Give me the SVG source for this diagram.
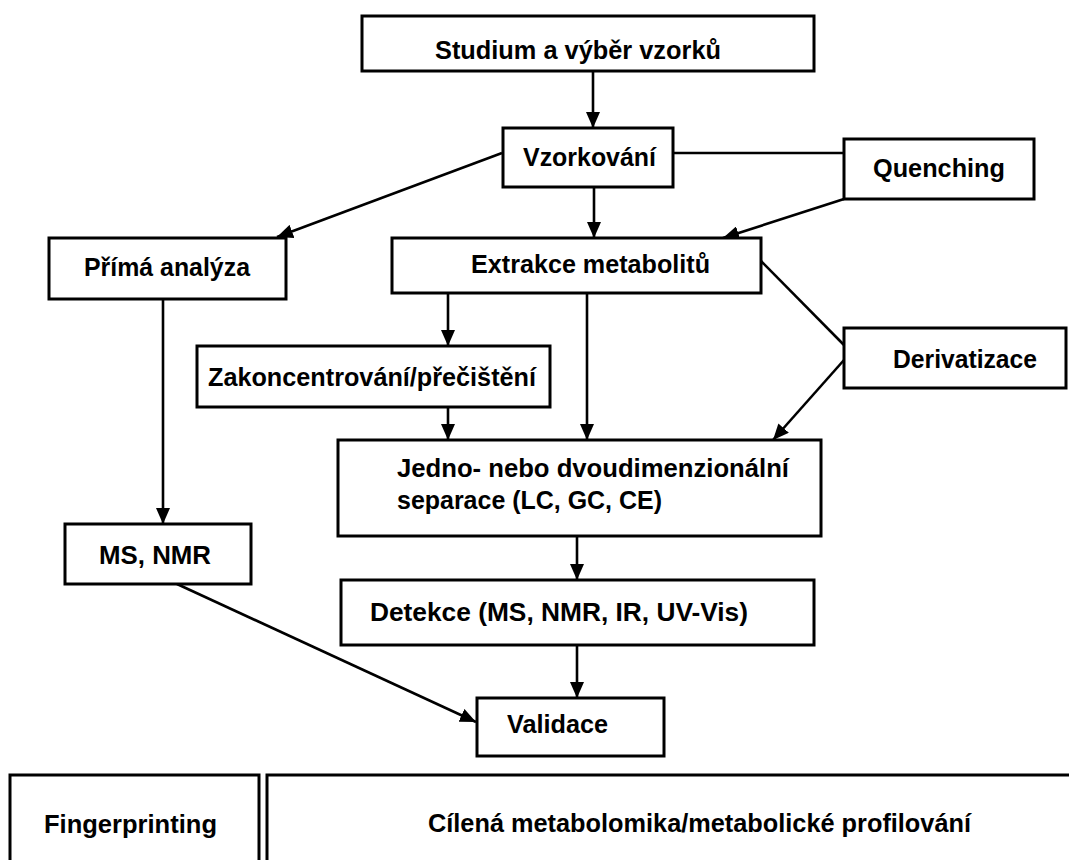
<svg xmlns="http://www.w3.org/2000/svg" width="1069" height="860" viewBox="0 0 1069 860">
<defs>
<style>
.box{fill:#fff;stroke:#000;stroke-width:3}
.t{font-family:"Liberation Sans",Arial,sans-serif;font-weight:bold;font-size:26px;fill:#000}
.c{stroke:#000;stroke-width:2.6;fill:none}
</style>
<marker id="arr" viewBox="0 0 16 14" refX="16" refY="7" markerWidth="16" markerHeight="14" markerUnits="userSpaceOnUse" orient="auto">
<path d="M0,0 L16,7 L0,14 z" fill="#000"/>
</marker>
</defs>
<rect width="1069" height="860" fill="#fff"/>
<g id="connectors">
<path class="c" d="M593 71 L593 128" marker-end="url(#arr)"/>
<path class="c" d="M502 153 L277 237" marker-end="url(#arr)"/>
<path class="c" d="M673 153 L844 153"/>
<path class="c" d="M594 187 L594 238" marker-end="url(#arr)"/>
<path class="c" d="M844 199 L723 238" marker-end="url(#arr)"/>
<path class="c" d="M448 293 L448 346" marker-end="url(#arr)"/>
<path class="c" d="M587 293 L587 440" marker-end="url(#arr)"/>
<path class="c" d="M761 261 L844 345"/>
<path class="c" d="M844 360 L773 440" marker-end="url(#arr)"/>
<path class="c" d="M448 407 L448 440" marker-end="url(#arr)"/>
<path class="c" d="M163 299 L163 524" marker-end="url(#arr)"/>
<path class="c" d="M577 536 L577 580" marker-end="url(#arr)"/>
<path class="c" d="M577 645 L577 698" marker-end="url(#arr)"/>
<path class="c" d="M177 584 L476 722" marker-end="url(#arr)"/>
</g>
<g id="studium">
<rect class="box" x="362" y="16" width="452" height="55"/>
<text class="t" x="435" y="59" textLength="286" lengthAdjust="spacingAndGlyphs">Studium a výběr vzorků</text>
</g>
<g id="vzorkovani">
<rect class="box" x="503" y="128" width="170" height="59"/>
<text class="t" x="523" y="166" textLength="133" lengthAdjust="spacingAndGlyphs">Vzorkování</text>
</g>
<g id="quenching">
<rect class="box" x="844" y="139" width="190" height="60"/>
<text class="t" x="873" y="177" textLength="132" lengthAdjust="spacingAndGlyphs">Quenching</text>
</g>
<g id="prima">
<rect class="box" x="49" y="238" width="237" height="61"/>
<text class="t" x="84" y="276" textLength="166" lengthAdjust="spacingAndGlyphs">Přímá analýza</text>
</g>
<g id="extrakce">
<rect class="box" x="392" y="238" width="369" height="55"/>
<text class="t" x="471" y="273" textLength="239" lengthAdjust="spacingAndGlyphs">Extrakce metabolitů</text>
</g>
<g id="zakoncentrovani">
<rect class="box" x="197" y="346" width="353" height="61"/>
<text class="t" x="208" y="386" textLength="328" lengthAdjust="spacingAndGlyphs">Zakoncentrování/přečištění</text>
</g>
<g id="derivatizace">
<rect class="box" x="844" y="328" width="222" height="60"/>
<text class="t" x="893" y="368" textLength="144" lengthAdjust="spacingAndGlyphs">Derivatizace</text>
</g>
<g id="separace">
<rect class="box" x="338" y="440" width="483" height="96"/>
<text class="t" x="397" y="477" textLength="392" lengthAdjust="spacingAndGlyphs">Jedno- nebo dvoudimenzionální</text>
<text class="t" x="397" y="509" textLength="265" lengthAdjust="spacingAndGlyphs">separace (LC, GC, CE)</text>
</g>
<g id="msnmr">
<rect class="box" x="65" y="524" width="186" height="60"/>
<text class="t" x="99" y="564" textLength="112" lengthAdjust="spacingAndGlyphs">MS, NMR</text>
</g>
<g id="detekce">
<rect class="box" x="341" y="580" width="473" height="65"/>
<text class="t" x="370" y="621" textLength="378" lengthAdjust="spacingAndGlyphs">Detekce (MS, NMR, IR, UV-Vis)</text>
</g>
<g id="validace">
<rect class="box" x="477" y="698" width="187" height="58"/>
<text class="t" x="507" y="733" textLength="101" lengthAdjust="spacingAndGlyphs">Validace</text>
</g>
<g id="fingerprinting">
<rect class="box" x="10" y="775" width="249" height="100"/>
<text class="t" x="44" y="833" textLength="173" lengthAdjust="spacingAndGlyphs">Fingerprinting</text>
</g>
<g id="cilena">
<rect class="box" x="267" y="775" width="820" height="100"/>
<text class="t" x="428" y="832" textLength="543" lengthAdjust="spacingAndGlyphs">Cílená metabolomika/metabolické profilování</text>
</g>
</svg>
